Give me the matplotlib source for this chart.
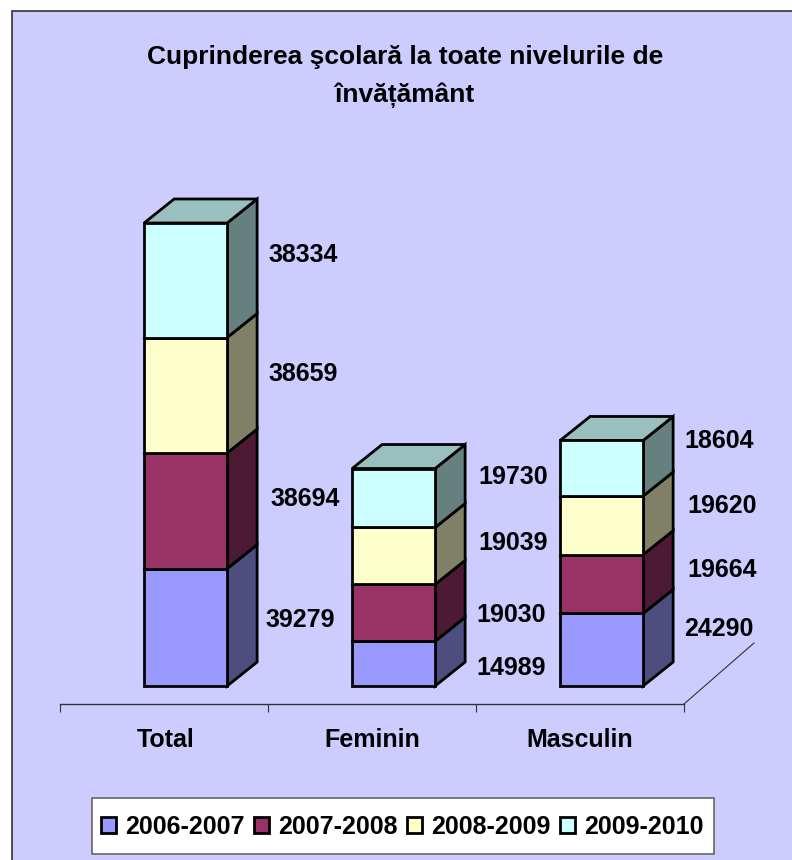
import numpy as np
import matplotlib
matplotlib.use('Agg')
import matplotlib.pyplot as plt
from matplotlib.patches import Polygon, Rectangle, Patch

plt.rcParams['font.family'] = ['Liberation Sans', 'DejaVu Sans']
plt.rcParams['font.weight'] = 'bold'

categories = ['Total', 'Feminin', 'Masculin']
years = ['2006-2007', '2007-2008', '2008-2009', '2009-2010']
v_2006 = [39279, 14989, 24290]
v_2007 = [38694, 19030, 19664]
v_2008 = [38659, 19039, 19620]
v_2009 = [38334, 19730, 18604]
series = [v_2006, v_2007, v_2008, v_2009]

front_cols = ['#9999FF', '#993366', '#FFFFCC', '#CCFFFF']
side_cols = ['#4D4D80', '#4D1A33', '#808066', '#668080']
top_col = '#99BFBF'

W, H = 792, 860
fig = plt.figure(figsize=(W / 100, H / 100), dpi=100, facecolor='white')

def fx(p):
    return p / W

def fy(p):
    return 1 - p / H

# chart panel runs off the right and bottom edges
fig.patches.append(Rectangle((fx(12), -0.01), 1, fy(11) + 0.01, transform=fig.transFigure,
                             facecolor='#CCCCFF', edgecolor='#333333', lw=1.2, zorder=0))
# legend box
fig.patches.append(Rectangle((fx(92), fy(854)), 622 / W, 56 / H, transform=fig.transFigure,
                             facecolor='white', edgecolor='#666666', lw=1.2, zorder=0.5))

# axes box: x axis line at y=704, category width 208px
ax = fig.add_axes([fx(60), fy(704), fx(624), (704 - 199) / H], zorder=1)
ax.patch.set_alpha(0)
px_per_val = 463 / sum(s[0] for s in series)
ax.set_xlim(0, 3)
ax.set_ylim(-18 / px_per_val, (505 - 18) / px_per_val)

bar_w = 83 / 208
shift = 0.104            # front face sits right of the category centre
dx = 30 / 208            # bar depth
dy = 24 / px_per_val
edge = 2.0

for i in range(3):
    x0 = i + 0.5 + shift - bar_w / 2
    x1 = x0 + bar_w
    bottom = 0
    for j, s in enumerate(series):
        top = bottom + s[i]
        ax.add_patch(Polygon([(x1, bottom), (x1 + dx, bottom + dy), (x1 + dx, top + dy), (x1, top)],
                             facecolor=side_cols[j], edgecolor='black', lw=edge, joinstyle='miter', clip_on=False, zorder=2))
        ax.add_patch(Rectangle((x0, bottom), bar_w, s[i], facecolor=front_cols[j],
                               edgecolor='black', lw=edge, clip_on=False, zorder=3))
        bottom = top
    ax.add_patch(Polygon([(x0, bottom), (x1, bottom), (x1 + dx, bottom + dy), (x0 + dx, bottom + dy)],
                         facecolor=top_col, edgecolor='black', lw=edge, joinstyle='miter', clip_on=False, zorder=2))

for sp in ['top', 'left', 'right']:
    ax.spines[sp].set_visible(False)
ax.spines['bottom'].set_color('#333333')
ax.spines['bottom'].set_linewidth(1.0)
ax.set_yticks([])
ax.set_xticks([0, 1, 2, 3])
ax.set_xticklabels([])
ax.tick_params(axis='x', which='major', length=6, width=0.8, color='#333333')
ax.set_xticks([0.51, 1.5, 2.5], minor=True)
ax.set_xticklabels(categories, minor=True, fontsize=18, fontweight='bold')
ax.tick_params(axis='x', which='minor', length=0, pad=17)

# floor edge going back from the end of the axis
ax.plot([3, 3 + 70 / 208], [-18 / px_per_val, (61 - 18) / px_per_val], color='#333333', lw=0.8, clip_on=False)

# hand placed data labels (pixel centres), same order as series
label_xy = [[(300, 620), (511, 668), (719, 629)],
            [(305, 499), (511, 615), (722, 570)],
            [(303, 374), (513, 543), (722, 506)],
            [(303, 255), (513, 477), (719, 441)]]
for j, s in enumerate(series):
    for i, v in enumerate(s):
        x, y = label_xy[j][i]
        fig.text(fx(x), fy(y), str(v), fontsize=18, fontweight='bold', ha='center', va='center')

fig.text(fx(405), fy(57), 'Cuprinderea şcolară la toate nivelurile de', fontsize=19, fontweight='bold', ha='center', va='center')
fig.text(fx(405), fy(95), 'învățământ', fontsize=19, fontweight='bold', ha='center', va='center')

handles = [Patch(facecolor=c, edgecolor='black', lw=edge) for c in front_cols]
leg = fig.legend(handles, years, ncol=4, loc='center', bbox_to_anchor=(fx(402), fy(827)),
                 prop={'size': 18, 'weight': 'bold', 'family': 'Liberation Sans'},
                 handlelength=0.6, handleheight=0.6, handletextpad=0.36, columnspacing=0.38,
                 frameon=False, borderpad=0, borderaxespad=0)
leg.set_zorder(2)

fig.savefig('out.png', dpi=100)
